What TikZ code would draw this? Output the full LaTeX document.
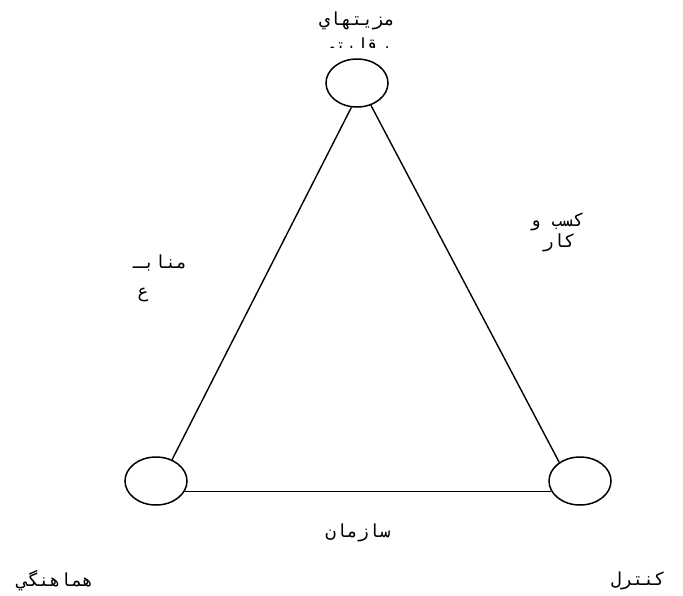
\documentclass[tikz,border=0pt]{standalone}
\usepackage{fontspec}
\usepackage{tikz}
\usetikzlibrary{positioning}
\usetikzlibrary{shapes.geometric}
\TeXXeTstate=1
\newfontfamily\farsifont[Script=Arabic]{DejaVu Sans Mono}

\begin{document}
\begin{tikzpicture}[x=1pt, y=-1pt,
    corner/.style={ellipse, draw, line width=1.5pt, minimum width=62pt, minimum height=48pt, inner sep=0pt},
    side/.style={line width=1.4pt},
    farsi/.style={font=\farsifont\fontsize{18}{20}\selectfont, inner sep=0pt}]
                \useasboundingbox (0,0) rectangle (683,595);
                % the three circles at the corners
                \node[corner] (top) at (357,83) {};
                \node[corner] (left) at (156,481) {};
                \node[corner] (right) at (580,481) {};
                % the sides of the triangle
                \draw[side] (top.257) -- (left.53);
                \draw[side] (top.302) -- (right.138);
                \draw[side] (left.340) -- (right.200);
                % texts
                \node[farsi] (adv1) at (357,21) {\beginR مزيتهاي\endR};
                \begin{scope}
                  % only the top of the second line is seen
                  \clip (300,34) rectangle (420,47);
                  \node[farsi] (adv2) at (357,47) {\beginR رقابتي\endR};
                \end{scope}
                \node[farsi] (biz1) at (557,222) {\beginR كسب و\endR};
                \node[farsi] (biz2) at (559,243) {\beginR كار\endR};
                \node[farsi] (res1) at (160,263) {\beginR منابـ\endR};
                \node[farsi] (res2) at (143,295) {\beginR ع\endR};
                \node[farsi] (org) at (358,533) {\beginR سازمان\endR};
                \node[farsi] (coord) at (55,581) {\beginR هماهنگي\endR};
                \node[farsi] (ctrl) at (638,581) {\beginR كنترل\endR};
\end{tikzpicture}
\end{document}
